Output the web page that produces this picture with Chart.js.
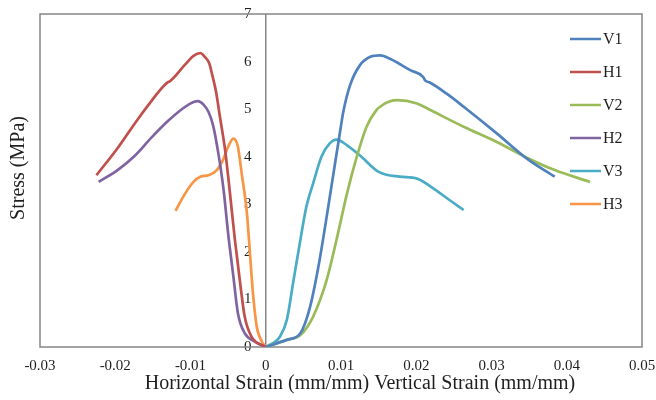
<!DOCTYPE html>
<html>
<head>
<meta charset="utf-8">
<script src="https://cdn.jsdelivr.net/npm/chart.js@4.4.1/dist/chart.umd.min.js"></script>
<style>
  html, body { margin: 0; padding: 0; background: #fff; }
  #wrap { width: 656px; height: 400px; }
</style>
</head>
<body>
<div id="wrap"><canvas id="stressChart" width="656" height="400"></canvas></div>
<script>
// tick values
const xTicks = [-0.03, -0.02, -0.01, 0, 0.01, 0.02, 0.03, 0.04, 0.05];
const yTicks = [0, 1, 2, 3, 4, 5, 6, 7];

// series (strain in mm/mm, stress in MPa)
const v1Strain = [0, 0.0028, 0.0046, 0.0059, 0.0070, 0.0081, 0.0090, 0.0099, 0.0103, 0.0112, 0.0125, 0.0139, 0.0152, 0.0165, 0.0192, 0.0209, 0.0212, 0.0218, 0.0240, 0.0263, 0.0307, 0.0347, 0.0384];
const v1Stress = [0, 0.15, 0.29, 0.85, 1.69, 2.74, 3.65, 4.55, 4.94, 5.50, 5.92, 6.10, 6.13, 6.06, 5.82, 5.68, 5.60, 5.56, 5.33, 5.05, 4.49, 3.96, 3.58];

const h1Strain = [-0.0225, -0.0196, -0.0174, -0.0152, -0.0130, -0.0128, -0.0107, -0.0096, -0.0087, -0.0081, -0.0075, -0.0071, -0.0066, -0.0061, -0.0054, -0.0048, -0.0041, -0.0034, -0.0028, -0.0019, 0];
const h1Stress = [3.61, 4.20, 4.70, 5.17, 5.57, 5.58, 5.94, 6.12, 6.18, 6.10, 5.96, 5.71, 5.36, 4.85, 4.14, 3.30, 2.25, 1.34, 0.64, 0.22, 0];

const v2Strain = [0, 0.0028, 0.0046, 0.0063, 0.0081, 0.0094, 0.0108, 0.0121, 0.0134, 0.0147, 0.0152, 0.0161, 0.0174, 0.0201, 0.0220, 0.0263, 0.0307, 0.0347, 0.0384, 0.0431];
const v2Stress = [0, 0.15, 0.25, 0.64, 1.41, 2.25, 3.23, 4.00, 4.63, 4.98, 5.05, 5.14, 5.19, 5.12, 4.97, 4.63, 4.31, 3.98, 3.72, 3.47];

const h2Strain = [-0.0222, -0.0196, -0.0174, -0.0152, -0.0130, -0.0107, -0.0096, -0.0090, -0.0083, -0.0076, -0.0070, -0.0063, -0.0056, -0.0050, -0.0043, -0.0037, -0.0028, -0.0014, 0];
const h2Stress = [3.47, 3.73, 4.02, 4.40, 4.75, 5.05, 5.15, 5.17, 5.10, 4.94, 4.66, 4.07, 3.30, 2.39, 1.48, 0.71, 0.29, 0.11, 0];

const v3Strain = [0, 0.0019, 0.0028, 0.0037, 0.0046, 0.0054, 0.0063, 0.0074, 0.0085, 0.0094, 0.0108, 0.0125, 0.0150, 0.0178, 0.0201, 0.0223, 0.0245, 0.0263];
const v3Stress = [0, 0.22, 0.57, 1.41, 2.25, 2.95, 3.44, 4.00, 4.28, 4.36, 4.24, 4.03, 3.68, 3.58, 3.54, 3.33, 3.08, 2.88];

const h3Strain = [-0.0120, -0.0107, -0.0096, -0.0087, -0.0076, -0.0065, -0.0056, -0.0050, -0.0043, -0.0037, -0.0032, -0.0025, -0.0021, -0.0017, -0.0012, -0.0005, 0];
const h3Stress = [2.86, 3.23, 3.47, 3.58, 3.61, 3.72, 3.96, 4.21, 4.38, 4.21, 3.65, 2.81, 1.97, 1.13, 0.43, 0.11, 0];

const seriesNames = ['V1', 'H1', 'V2', 'H2', 'V3', 'H3'];
const seriesColors = ['#4F81BD', '#C0504D', '#9BBB59', '#8064A2', '#4BACC6', '#F79646'];
const seriesX = [v1Strain, h1Strain, v2Strain, h2Strain, v3Strain, h3Strain];
const seriesY = [v1Stress, h1Stress, v2Stress, h2Stress, v3Stress, h3Stress];

const SERIF = '"Liberation Serif", "Times New Roman", serif';
const TEXT = '#1f1f1f';
const AXIS = '#868686';

const pairUp = (xs, ys) => xs.map((x, i) => ({ x: x, y: ys[i] }));

// frame, axis titles and the legend inside the plot
const decorations = {
    id: 'decorations',
    beforeDatasetsDraw(chart) {
        const { ctx, chartArea: a } = chart;
        ctx.save();
        ctx.strokeStyle = AXIS;
        ctx.lineWidth = 1.5;
        ctx.strokeRect(a.left, a.top, a.right - a.left, a.bottom - a.top);
        ctx.restore();
    },
    afterDraw(chart) {
        const ctx = chart.ctx;
        ctx.save();
        ctx.fillStyle = TEXT;
        ctx.font = '20px ' + SERIF;
        ctx.textAlign = 'center';
        ctx.textBaseline = 'middle';
        ctx.fillText('Horizontal Strain (mm/mm) Vertical Strain (mm/mm)', 360, 384);

        ctx.translate(19, 168);
        ctx.rotate(-Math.PI / 2);
        ctx.fillText('Stress (MPa)', 0, 0);
        ctx.restore();

        // legend
        ctx.save();
        ctx.font = '16px ' + SERIF;
        ctx.textAlign = 'left';
        ctx.textBaseline = 'middle';
        chart.data.datasets.forEach((ds, i) => {
            const y = 39 + i * 33;
            ctx.strokeStyle = ds.borderColor;
            ctx.lineWidth = 2.5;
            ctx.beginPath();
            ctx.moveTo(570, y);
            ctx.lineTo(601, y);
            ctx.stroke();
            ctx.fillStyle = TEXT;
            ctx.fillText(ds.label, 603, y + 1);
        });
        ctx.restore();
    }
};

new Chart(document.getElementById('stressChart'), {
    type: 'line',
    data: {
        datasets: seriesNames.map((name, i) => ({
            label: name,
            data: pairUp(seriesX[i], seriesY[i]),
            borderColor: seriesColors[i],
            backgroundColor: seriesColors[i],
            borderWidth: 2.7,
            pointRadius: 0,
            fill: false,
            cubicInterpolationMode: 'monotone'
        }))
    },
    options: {
        responsive: false,
        animation: false,
        layout: { padding: { left: 40, top: 14, right: 14, bottom: 0 } },
        plugins: {
            legend: { display: false },
            tooltip: { enabled: false }
        },
        scales: {
            x: {
                type: 'linear',
                position: 'bottom',
                min: -0.03,
                max: 0.05,
                afterBuildTicks: s => { s.ticks = xTicks.map(v => ({ value: v })); },
                afterFit: s => { s.height = 53; s.paddingLeft = 0; s.paddingRight = 0; },
                // only the zero line is shown: it is the vertical stress axis
                grid: {
                    display: true,
                    drawTicks: false,
                    lineWidth: 1.5,
                    color: c => (c.tick && c.tick.value === 0 ? AXIS : 'rgba(0,0,0,0)')
                },
                border: { display: false },
                ticks: {
                    padding: 10,
                    color: TEXT,
                    font: { family: SERIF, size: 15 },
                    callback: v => String(v)
                }
            },
            y: {
                type: 'linear',
                // labels sit a little to the left of the zero line
                position: { x: -0.0019 },
                min: 0,
                max: 7,
                afterBuildTicks: s => { s.ticks = yTicks.map(v => ({ value: v })); },
                afterFit: s => { s.paddingTop = 0; s.paddingBottom = 0; },
                grid: { display: false, drawTicks: false },
                border: { display: false },
                ticks: {
                    padding: 0,
                    color: TEXT,
                    font: { family: SERIF, size: 15 },
                    callback: v => String(v)
                }
            }
        }
    },
    plugins: [decorations]
});
</script>
</body>
</html>
